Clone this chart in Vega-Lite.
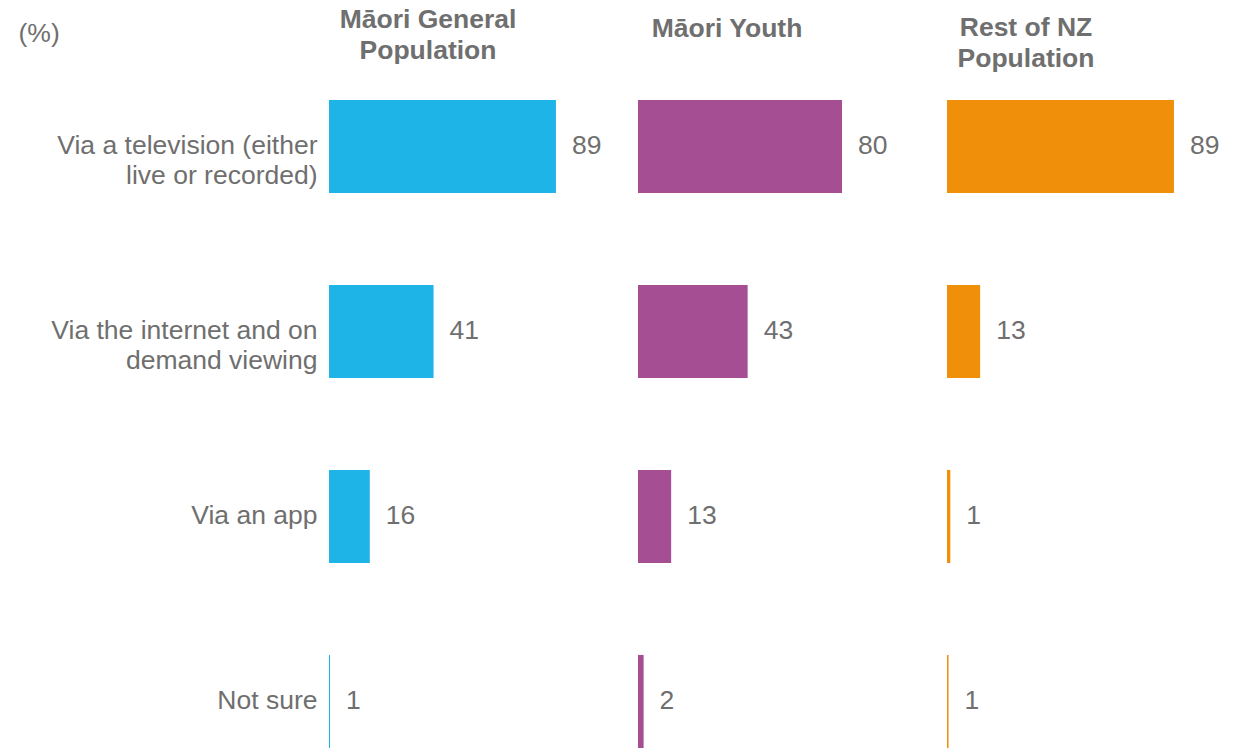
{
  "$schema": "https://vega.github.io/schema/vega-lite/v6.json",
  "padding": {"left": 18, "top": 6, "right": 0, "bottom": 0},
  "bounds": "flush",
  "spacing": 54,
  "config": {
    "font": "Liberation Sans",
    "view": {"stroke": null},
    "title": {"fontSize": 26.5, "fontWeight": "bold", "color": "#6f6f6f", "lineHeight": 31, "anchor": "middle", "offset": -8}
  },
  "datasets": {
    "d": [
      {"group": "Māori General Population", "category": "Via a television (either live or recorded)", "pct": 89, "label": "89"},
      {"group": "Māori General Population", "category": "Via the internet and on demand viewing", "pct": 41, "label": "41"},
      {"group": "Māori General Population", "category": "Via an app", "pct": 16, "label": "16"},
      {"group": "Māori General Population", "category": "Not sure", "pct": 0.4, "label": "1"},
      {"group": "Māori Youth", "category": "Via a television (either live or recorded)", "pct": 80, "label": "80"},
      {"group": "Māori Youth", "category": "Via the internet and on demand viewing", "pct": 43, "label": "43"},
      {"group": "Māori Youth", "category": "Via an app", "pct": 13, "label": "13"},
      {"group": "Māori Youth", "category": "Not sure", "pct": 2.2, "label": "2"},
      {"group": "Rest of NZ Population", "category": "Via a television (either live or recorded)", "pct": 89, "label": "89"},
      {"group": "Rest of NZ Population", "category": "Via the internet and on demand viewing", "pct": 13, "label": "13"},
      {"group": "Rest of NZ Population", "category": "Via an app", "pct": 1.3, "label": "1"},
      {"group": "Rest of NZ Population", "category": "Not sure", "pct": 0.6, "label": "1"}
    ]
  },
  "hconcat": [
    {
      "width": 255, "height": 693,
      "title": {"text": ["Māori General", "Population"], "dx": -28.5, "dy": 36},
      "data": {"name": "d"},
      "transform": [{"filter": "datum.group == 'Māori General Population'"}],
      "encoding": {
        "y": {
          "field": "category", "type": "nominal",
          "sort": ["Via a television (either live or recorded)", "Via the internet and on demand viewing", "Via an app", "Not sure"],
          "scale": {"paddingInner": 0.497, "paddingOuter": 0.1215, "align": 1},
          "axis": {
            "title": "(%)", "titleAngle": 0, "titleAlign": "left", "titleBaseline": "middle",
            "titleX": -311, "titleY": -22, "titleFontSize": 26.5, "titleFontWeight": "normal", "titleColor": "#6f6f6f",
            "labelFontSize": 26.5, "labelColor": "#6f6f6f", "labelPadding": 12, "labelLineHeight": 30, "labelLimit": 400,
            "ticks": false, "domain": false, "grid": false,
            "labelExpr": "datum.value == 'Via a television (either live or recorded)' ? ['Via a television (either', 'live or recorded)'] : datum.value == 'Via the internet and on demand viewing' ? ['Via the internet and on', 'demand viewing'] : datum.value"
          }
        },
        "x": {"field": "pct", "type": "quantitative", "scale": {"domain": [0, 100]}, "axis": null}
      },
      "layer": [
        {"mark": {"type": "bar", "color": "#1FB4E8"}},
        {"mark": {"type": "text", "align": "left", "baseline": "middle", "dx": 16, "fontSize": 26.5, "color": "#6f6f6f"}, "encoding": {"text": {"field": "label"}}}
      ]
    },
    {
      "width": 255, "height": 693,
      "title": {"text": "Māori Youth", "dx": -38.5, "dy": -21},
      "data": {"name": "d"},
      "transform": [{"filter": "datum.group == 'Māori Youth'"}],
      "encoding": {
        "y": {
          "field": "category", "type": "nominal",
          "sort": ["Via a television (either live or recorded)", "Via the internet and on demand viewing", "Via an app", "Not sure"],
          "scale": {"paddingInner": 0.497, "paddingOuter": 0.1215, "align": 1},
          "axis": null
        },
        "x": {"field": "pct", "type": "quantitative", "scale": {"domain": [0, 100]}, "axis": null}
      },
      "layer": [
        {"mark": {"type": "bar", "color": "#A64E93"}},
        {"mark": {"type": "text", "align": "left", "baseline": "middle", "dx": 16, "fontSize": 26.5, "color": "#6f6f6f"}, "encoding": {"text": {"field": "label"}}}
      ]
    },
    {
      "width": 255, "height": 693,
      "title": {"text": ["Rest of NZ", "Population"], "dx": -48.5, "dy": 9},
      "data": {"name": "d"},
      "transform": [{"filter": "datum.group == 'Rest of NZ Population'"}],
      "encoding": {
        "y": {
          "field": "category", "type": "nominal",
          "sort": ["Via a television (either live or recorded)", "Via the internet and on demand viewing", "Via an app", "Not sure"],
          "scale": {"paddingInner": 0.497, "paddingOuter": 0.1215, "align": 1},
          "axis": null
        },
        "x": {"field": "pct", "type": "quantitative", "scale": {"domain": [0, 100]}, "axis": null}
      },
      "layer": [
        {"mark": {"type": "bar", "color": "#F0900A"}},
        {"mark": {"type": "text", "align": "left", "baseline": "middle", "dx": 16, "fontSize": 26.5, "color": "#6f6f6f"}, "encoding": {"text": {"field": "label"}}}
      ]
    }
  ]
}
